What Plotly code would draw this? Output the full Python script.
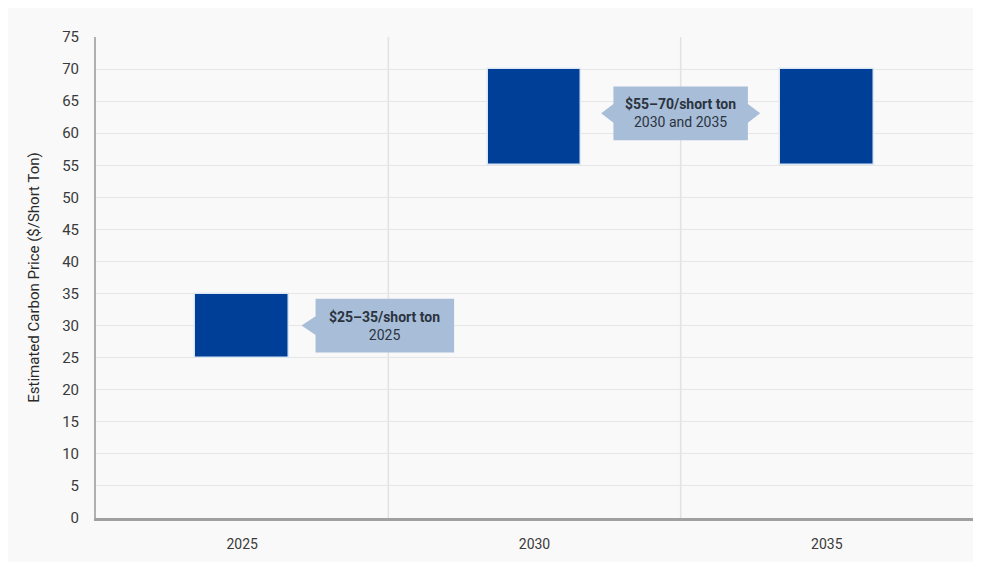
import plotly.graph_objects as go

# ---- data ----
years = ["2025", "2030", "2035"]
price_low = [25, 55, 55]
price_high = [35, 70, 70]
y_ticks = list(range(0, 80, 5))

callout_lines_1 = ["$25–35/short ton", "2025"]
callout_lines_2 = ["$55–70/short ton", "2030 and 2035"]

FONT = "Roboto, Liberation Sans, sans-serif"
BAR_COLOR = "#003f98"
CALLOUT_FILL = "#a8bed8"
TEXT_DARK = "#2b3340"

xs = list(range(len(years)))
heights = [h - l for h, l in zip(price_high, price_low)]

fig = go.Figure()
fig.add_trace(go.Bar(
    x=xs, y=heights, base=price_low, width=0.32,
    marker=dict(color=BAR_COLOR, line=dict(color="#dce7f4", width=1.5)),
    hoverinfo="skip", showlegend=False,
))

shapes = []
# category boundary grid lines
for i in range(len(years) - 1):
    shapes.append(dict(type="line", xref="x", yref="paper", layer="below",
                       x0=i + 0.5, x1=i + 0.5, y0=0, y1=1,
                       line=dict(color="#e2e2e2", width=1.5)))


def callout(xc, yc, half_w, half_h, tip, left=True, right=False):
    x0, x1 = xc - half_w, xc + half_w
    y0, y1 = yc - half_h, yc + half_h
    pts = [(x0, y1), (x1, y1)]
    if right:
        pts += [(x1, yc + half_h * 0.35), (x1 + tip, yc), (x1, yc - half_h * 0.35)]
    pts += [(x1, y0), (x0, y0)]
    if left:
        pts += [(x0, yc - half_h * 0.35), (x0 - tip, yc), (x0, yc + half_h * 0.35)]
    path = "M " + " L ".join(f"{px},{py}" for px, py in pts) + " Z"
    return dict(type="path", xref="x", yref="y", path=path,
                fillcolor=CALLOUT_FILL, line=dict(width=0), layer="above")


c1_y = (price_low[0] + price_high[0]) / 2
c2_y = (price_low[1] + price_high[1]) / 2 + 0.6
shapes.append(callout(0.488, c1_y, 0.237, 4.2, 0.048, left=True))
shapes.append(callout(1.50, c2_y, 0.23, 4.2, 0.042, left=True, right=True))

annotations = [
    dict(x=0.488, y=c1_y, xref="x", yref="y", showarrow=False,
         text=f"<b>{callout_lines_1[0]}</b><br>{callout_lines_1[1]}",
         font=dict(family=FONT, size=14, color=TEXT_DARK), align="center"),
    dict(x=1.50, y=c2_y, xref="x", yref="y", showarrow=False,
         text=f"<b>{callout_lines_2[0]}</b><br>{callout_lines_2[1]}",
         font=dict(family=FONT, size=14, color=TEXT_DARK), align="center"),
]

fig.update_layout(
    width=973, height=554,
    margin=dict(l=88, r=8, t=29, b=44),
    paper_bgcolor="#f9f9f9",
    plot_bgcolor="rgba(0,0,0,0)",
    font=dict(family=FONT, size=14, color="#3a3a3a"),
    shapes=shapes,
    annotations=annotations,
    bargap=0,
    xaxis=dict(
        range=[-0.5, len(years) - 0.5],
        tickvals=xs, ticktext=years,
        showgrid=False, zeroline=False,
        showline=True, linecolor="#a0a0a0", linewidth=2.5,
        ticks="", ticklabelstandoff=11,
        tickfont=dict(family=FONT, size=14, color="#3a3a3a"),
        fixedrange=True, automargin=False,
    ),
    yaxis=dict(
        range=[0, 75], tickvals=y_ticks,
        showgrid=True, gridcolor="#e6e6e6", gridwidth=1,
        zeroline=False,
        showline=True, linecolor="#b0b0b0", linewidth=2,
        ticks="", ticklabelstandoff=12,
        tickfont=dict(family=FONT, size=15, color="#3a3a3a"),
        title=dict(text="Estimated Carbon Price ($/Short Ton)",
                   font=dict(family=FONT, size=15, color="#2a2a2a"), standoff=19),
        fixedrange=True, automargin=False,
    ),
)

fig.write_html("out.html")
